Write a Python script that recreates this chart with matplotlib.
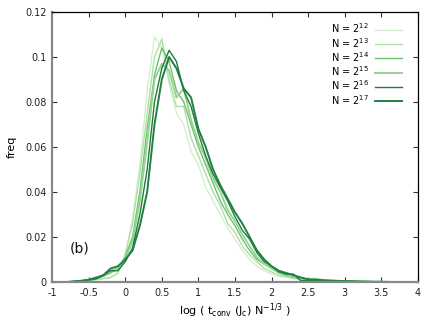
import matplotlib
matplotlib.use("Agg")
import matplotlib.pyplot as plt

x_bins = [-0.8, -0.7, -0.6, -0.5, -0.4, -0.3, -0.2, -0.1, 0.0, 0.1, 0.2, 0.3, 0.4,
          0.5, 0.6, 0.7, 0.8, 0.9, 1.0, 1.1, 1.2, 1.3, 1.4, 1.5, 1.6, 1.7, 1.8, 1.9,
          2.0, 2.1, 2.2, 2.3, 2.4, 2.5, 2.6, 2.7, 2.8, 2.9, 3.0, 3.1, 3.2, 3.3, 3.4,
          3.5, 3.6, 3.7, 3.8, 3.9, 4.0]

freq_n12 = [0, 0, 0.0002, 0.0005, 0.001, 0.0015, 0.002, 0.004, 0.012, 0.028, 0.052, 0.085, 0.109,
            0.104, 0.088, 0.075, 0.070, 0.058, 0.052, 0.042, 0.036, 0.030, 0.024, 0.019, 0.014, 0.010,
            0.007, 0.005, 0.0035, 0.0025, 0.002, 0.0015, 0.001, 0.0008, 0.0006, 0.0005, 0.0004,
            0.0003, 0.0002, 0.0002, 0.0001, 0.0001, 0, 0, 0, 0, 0, 0, 0]
freq_n13 = [0, 0, 0.0002, 0.0005, 0.001, 0.0015, 0.002, 0.004, 0.012, 0.026, 0.048, 0.075, 0.100,
            0.108, 0.090, 0.078, 0.078, 0.064, 0.056, 0.048, 0.040, 0.034, 0.026, 0.022, 0.016, 0.012,
            0.009, 0.006, 0.0045, 0.003, 0.0025, 0.0018, 0.0012, 0.001, 0.0008, 0.0006, 0.0005,
            0.0004, 0.0003, 0.0002, 0.0002, 0.0001, 0.0001, 0, 0, 0, 0, 0, 0]
freq_n14 = [0, 0.0002, 0.0004, 0.0008, 0.0015, 0.0025, 0.004, 0.006, 0.011, 0.020, 0.040, 0.068, 0.092,
            0.104, 0.098, 0.085, 0.080, 0.070, 0.060, 0.052, 0.044, 0.036, 0.030, 0.025, 0.019, 0.014,
            0.010, 0.008, 0.006, 0.004, 0.003, 0.002, 0.0015, 0.001, 0.0012, 0.0008, 0.0006,
            0.0005, 0.0004, 0.0003, 0.0002, 0.0002, 0.0001, 0.0001, 0, 0, 0, 0, 0]
freq_n15 = [0, 0.0002, 0.0005, 0.001, 0.002, 0.003, 0.005, 0.006, 0.010, 0.018, 0.036, 0.062, 0.090,
            0.097, 0.094, 0.082, 0.086, 0.072, 0.062, 0.055, 0.046, 0.040, 0.032, 0.027, 0.021, 0.016,
            0.011, 0.008, 0.006, 0.0045, 0.003, 0.0022, 0.0016, 0.0012, 0.0015, 0.0009, 0.0007,
            0.0005, 0.0004, 0.0003, 0.0003, 0.0002, 0.0001, 0.0001, 0, 0, 0, 0, 0]
freq_n16 = [0, 0.0003, 0.0006, 0.001, 0.002, 0.003, 0.005, 0.005, 0.009, 0.015, 0.030, 0.050, 0.080,
            0.095, 0.103, 0.098, 0.085, 0.078, 0.066, 0.056, 0.048, 0.042, 0.036, 0.029, 0.023, 0.019,
            0.013, 0.009, 0.007, 0.0045, 0.0035, 0.0035, 0.0005, 0.0008, 0.0008, 0.0006, 0.0005,
            0.0004, 0.0003, 0.0003, 0.0002, 0.0001, 0.0001, 0, 0, 0, 0, 0, 0]
freq_n17 = [0, 0.0002, 0.0005, 0.001, 0.0015, 0.003, 0.006, 0.007, 0.010, 0.014, 0.025, 0.040, 0.070,
            0.090, 0.100, 0.095, 0.086, 0.082, 0.068, 0.060, 0.050, 0.043, 0.037, 0.031, 0.026, 0.020,
            0.014, 0.010, 0.007, 0.005, 0.004, 0.003, 0.002, 0.0012, 0.001, 0.0008, 0.0006,
            0.0005, 0.0004, 0.0003, 0.0002, 0.0002, 0.0001, 0.0001, 0, 0, 0, 0, 0]

series_labels = [r"N = 2$^{12}$", r"N = 2$^{13}$", r"N = 2$^{14}$",
                 r"N = 2$^{15}$", r"N = 2$^{16}$", r"N = 2$^{17}$"]
series_values = [freq_n12, freq_n13, freq_n14, freq_n15, freq_n16, freq_n17]
colors = ["#d5eecf", "#ade0a5", "#6cc070", "#96d492", "#237a3a", "#1f7f44"]
widths = [1.0, 1.0, 1.0, 1.4, 1.0, 1.4]

x_ticks = [-1, -0.5, 0, 0.5, 1, 1.5, 2, 2.5, 3, 3.5, 4]
x_ticklabels = ["-1", "-0.5", "0", "0.5", "1", "1.5", "2", "2.5", "3", "3.5", "4"]
y_ticks = [0, 0.02, 0.04, 0.06, 0.08, 0.1, 0.12]
y_ticklabels = ["0", "0.02", "0.04", "0.06", "0.08", "0.1", "0.12"]

plt.rcParams['font.family'] = ['DejaVu Sans']
plt.rcParams['mathtext.fontset'] = 'dejavusans'

fig = plt.figure(figsize=(4.36, 3.27), dpi=100)
ax = fig.add_axes([52/436, 1-282/327, 366/436, 270/327])

for vals, lab, c, lw in zip(series_values, series_labels, colors, widths):
    ax.plot(x_bins, vals, color=c, lw=lw, label=lab)

ax.set_xlim(-1, 4)
ax.set_ylim(0, 0.12)
ax.set_xticks(x_ticks)
ax.set_xticklabels(x_ticklabels)
ax.set_yticks(y_ticks)
ax.set_yticklabels(y_ticklabels)
ax.tick_params(direction='in', length=3.5, width=0.8, labelsize=7, top=True, right=True,
               colors='#333333', labelcolor='#222222', pad=4)

for s in ['left', 'bottom']:
    ax.spines[s].set_color('#888888')
    ax.spines[s].set_linewidth(1.6)
for s in ['top', 'right']:
    ax.spines[s].set_color('black')
    ax.spines[s].set_linewidth(0.9)

ax.set_xlabel(r"log ( t$_{\rm conv}$ (J$_{\rm c}$) N$^{-1/3}$ )", fontsize=8, labelpad=3)
ax.set_ylabel("freq", fontsize=8, labelpad=6)

ax.text(-0.62, 0.015, "(b)", fontsize=10, ha='center', va='center', color='#111111')

leg = ax.legend(loc='upper right', bbox_to_anchor=(0.975, 0.99), frameon=False,
                markerfirst=False, fontsize=7, handlelength=2.8, labelspacing=0.05,
                handletextpad=0.6, borderpad=0.2)

fig.savefig("out.png", dpi=100)
